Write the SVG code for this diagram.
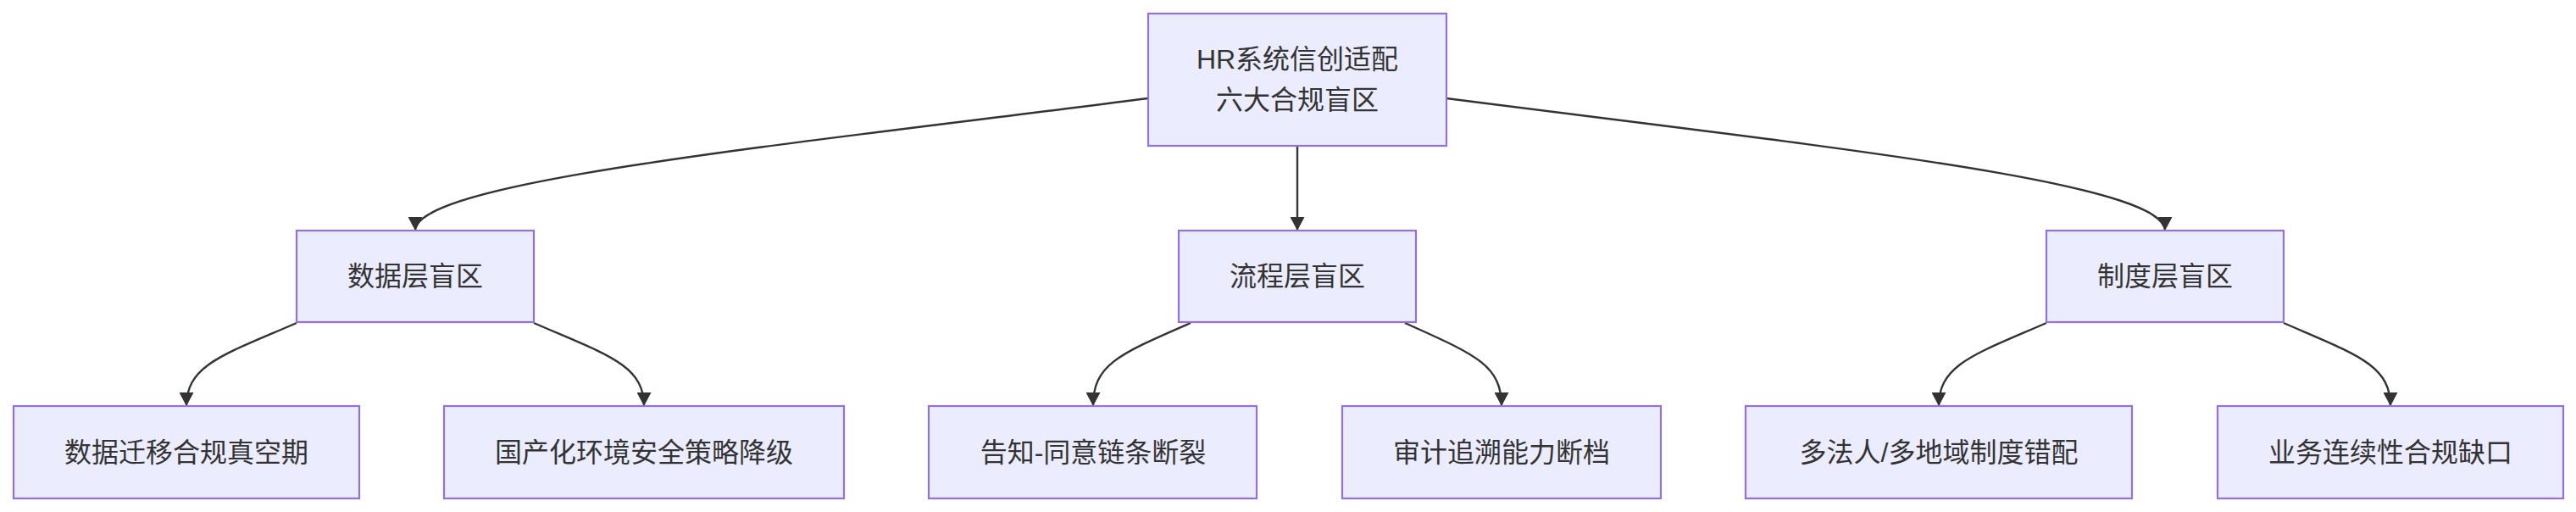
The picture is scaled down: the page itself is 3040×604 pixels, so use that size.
<svg xmlns="http://www.w3.org/2000/svg" width="3040" height="604" viewBox="0 0 3040 604">
<style>
.node rect{fill:#ECECFF;stroke:#9370DB;stroke-width:2.2}
.node text{font-family:"Liberation Sans","Noto Sans CJK SC",sans-serif;font-size:32px;fill:#333333;text-anchor:middle;dominant-baseline:central}
.edges path{fill:none;stroke:#333333;stroke-width:2.4;marker-end:url(#arrow)}
</style>
<defs>
<marker id="arrow" markerUnits="userSpaceOnUse" viewBox="0 0 16 17" refX="16" refY="8.5" markerWidth="16" markerHeight="17" orient="auto">
<path d="M0,0 L16,8.5 L0,17 z" fill="#333333"/>
</marker>
</defs>
<rect width="3040" height="604" fill="#ffffff"/>
<g class="edges">
<path d="M1355,116 C900,174 490,215 490,272"/>
<path d="M1531,172 L1531,272"/>
<path d="M1707,116 C2160,174 2555,215 2555,272"/>
<path d="M350,381 C265,418 220,430 220,479"/>
<path d="M630,381 C715,418 760,430 760,479"/>
<path d="M1405,381 C1320,418 1290,430 1290,479"/>
<path d="M1658,381 C1740,418 1772,430 1772,479"/>
<path d="M2415,381 C2330,418 2288,430 2288,479"/>
<path d="M2695,381 C2780,418 2821,430 2821,479"/>
</g>
<g id="root" class="node">
<rect x="1355" y="16" width="352" height="156"/>
<text x="1531" y="70">HR系统信创适配</text>
<text x="1531" y="118">六大合规盲区</text>
</g>
<g id="data" class="node">
<rect x="350" y="272" width="280" height="108"/>
<text x="490" y="326">数据层盲区</text>
</g>
<g id="process" class="node">
<rect x="1391" y="272" width="280" height="108"/>
<text x="1531" y="326">流程层盲区</text>
</g>
<g id="system" class="node">
<rect x="2415" y="272" width="280" height="108"/>
<text x="2555" y="326">制度层盲区</text>
</g>
<g id="d1" class="node">
<rect x="16" y="479" width="408" height="109"/>
<text x="220" y="534">数据迁移合规真空期</text>
</g>
<g id="d2" class="node">
<rect x="524" y="479" width="472" height="109"/>
<text x="760" y="534">国产化环境安全策略降级</text>
</g>
<g id="p1" class="node">
<rect x="1096" y="479" width="387" height="109"/>
<text x="1290" y="534">告知-同意链条断裂</text>
</g>
<g id="p2" class="node">
<rect x="1584" y="479" width="376" height="109"/>
<text x="1772" y="534">审计追溯能力断档</text>
</g>
<g id="s1" class="node">
<rect x="2060" y="479" width="456" height="109"/>
<text x="2288" y="534">多法人/多地域制度错配</text>
</g>
<g id="s2" class="node">
<rect x="2617" y="479" width="408" height="109"/>
<text x="2821" y="534">业务连续性合规缺口</text>
</g>
</svg>
